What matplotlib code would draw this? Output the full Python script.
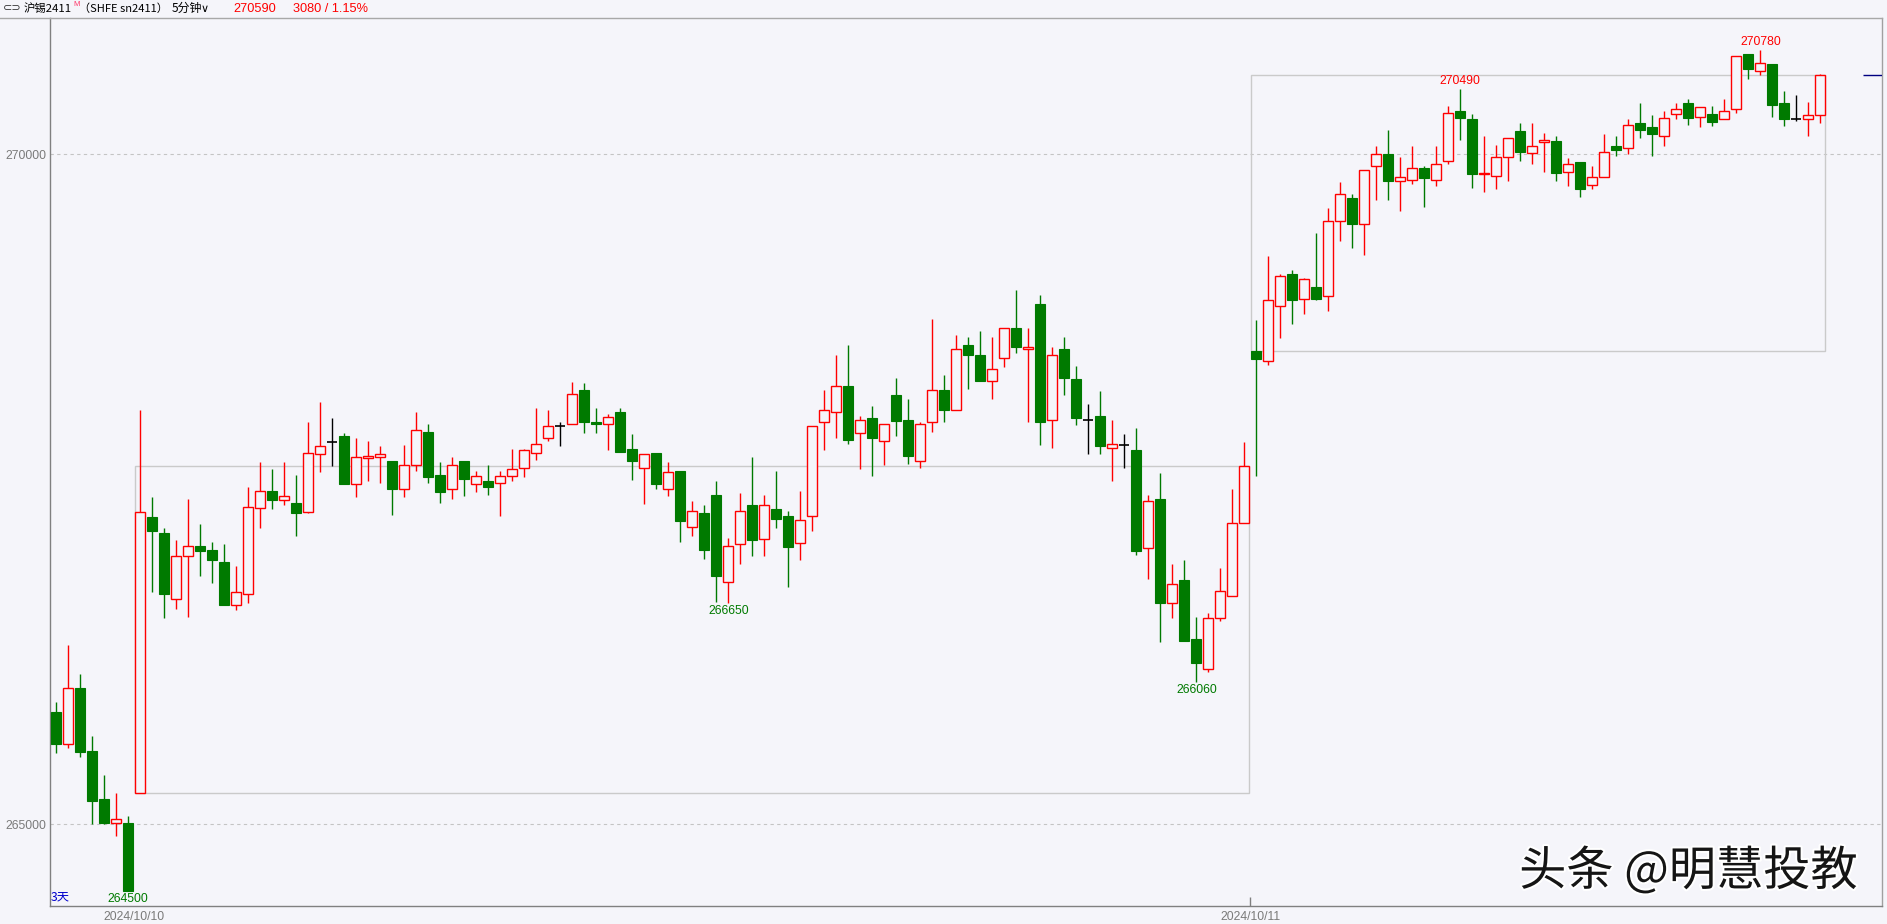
import matplotlib
matplotlib.use('Agg')
import matplotlib.pyplot as plt
from matplotlib.patches import Rectangle
import matplotlib.patheffects as pe
import matplotlib.transforms as mtrans

plt.rcParams['font.family'] = ['Liberation Sans', 'Noto Sans CJK SC', 'DejaVu Sans']

# ---------------- data (5-minute candles, SHFE sn2411) ----------------
opens = [265840, 265600, 266020, 265550, 265190, 265010, 265010, 265230, 267290, 267170,
         266680, 267000, 267080, 267050, 266960, 266640, 266720, 267360, 267490, 267420,
         267400, 267330, 267760, 267850, 267900, 267540, 267730, 267740, 267710, 267500,
         267680, 267930, 267610, 267500, 267710, 267540, 267560, 267550, 267600, 267660,
         267770, 267880, 267970, 267990, 268240, 268000, 267990, 268080, 267800, 267660,
         267770, 267500, 267640, 267220, 267320, 267460, 266810, 267090, 267380, 267130,
         267350, 267300, 267100, 267300, 268000, 268080, 268270, 267920, 268030, 267860,
         268200, 268020, 267710, 268000, 268240, 268090, 268580, 268500, 268310, 268480,
         268700, 268550, 268880, 268020, 268550, 268320, 268020, 268050, 267810, 267830,
         267790, 267060, 267430, 266650, 266820, 266380, 266160, 266540, 266700, 267250,
         268530, 268460, 268870, 269110, 268920, 269010, 268940, 269500, 269670, 269480,
         269910, 270000, 269800, 269810, 269900, 269810, 269950, 270320, 270260, 269850,
         269840, 269980, 270170, 270010, 270090, 270100, 269870, 269940, 269770, 269830,
         270060, 270050, 270230, 270200, 270140, 270300, 270380, 270280, 270300, 270260,
         270340, 270750, 270620, 270670, 270380, 270260, 270260, 270290]
highs = [265910, 266340, 266120, 265660, 265370, 265230, 265060, 268090, 267440, 267210,
         267120, 267430, 267240, 267110, 267090, 266930, 267520, 267700, 267650, 267700,
         267610, 268000, 268150, 268030, 267920, 267880, 267860, 267820, 267710, 267830,
         268080, 267990, 267700, 267740, 267710, 267640, 267680, 267640, 267800, 267800,
         268110, 268090, 268000, 268300, 268290, 268110, 268060, 268110, 267910, 267760,
         267770, 267700, 267640, 267410, 267380, 267560, 267140, 267470, 267740, 267460,
         267640, 267340, 267490, 267970, 268240, 268500, 268580, 268050, 268120, 267990,
         268330, 268170, 268000, 268770, 268350, 268650, 268640, 268680, 268640, 268700,
         268990, 268700, 268950, 268560, 268640, 268420, 268140, 268230, 268020, 267910,
         267960, 267460, 267620, 266940, 266970, 266550, 266580, 266910, 267500, 267850,
         268760, 269240, 269110, 269140, 269080, 269410, 269600, 269790, 269700, 269880,
         270060, 270180, 269980, 270060, 269910, 270060, 270360, 270490, 270300, 270140,
         270070, 270120, 270230, 270230, 270160, 270140, 269970, 269940, 269910, 270150,
         270140, 270260, 270380, 270290, 270320, 270380, 270410, 270350, 270360, 270410,
         270730, 270750, 270780, 270670, 270470, 270440, 270390, 270600]
lows = [265530, 265570, 265500, 265000, 265000, 264910, 264500, 265230, 266730, 266540,
        266610, 266550, 266850, 266800, 266640, 266600, 266650, 267210, 267350, 267380,
        267150, 267320, 267630, 267670, 267540, 267440, 267560, 267550, 267310, 267440,
        267640, 267550, 267400, 267430, 267450, 267480, 267460, 267300, 267560, 267590,
        267720, 267860, 267820, 267990, 267920, 267920, 267790, 267780, 267570, 267390,
        267500, 267450, 267110, 267150, 266980, 266660, 266650, 266940, 267000, 267000,
        267210, 266770, 266970, 267190, 267790, 267880, 267840, 267650, 267600, 267680,
        267900, 267690, 267660, 267930, 268000, 268090, 268250, 268310, 268170, 268410,
        268520, 268000, 267830, 267810, 268200, 267980, 267760, 267760, 267560, 267660,
        267010, 266830, 266360, 266540, 266370, 266060, 266140, 266520, 266700, 267250,
        267600, 268430, 268630, 268730, 268810, 268910, 268830, 269350, 269300, 269250,
        269660, 269660, 269580, 269780, 269610, 269760, 269930, 270110, 269750, 269720,
        269740, 269800, 269950, 269930, 269870, 269800, 269760, 269680, 269740, 269830,
        269990, 270000, 270120, 269990, 270060, 270260, 270220, 270200, 270210, 270260,
        270310, 270560, 270590, 270280, 270210, 270250, 270140, 270230]
closes = [265600, 266020, 265540, 265170, 265010, 265040, 264500, 267330, 267190, 266720,
          267000, 267080, 267040, 266970, 266640, 266730, 267370, 267490, 267420, 267450,
          267320, 267770, 267820, 267850, 267540, 267740, 267750, 267760, 267500, 267680,
          267940, 267590, 267480, 267680, 267580, 267600, 267520, 267600, 267650, 267790,
          267840, 267970, 267970, 268210, 268000, 267990, 268040, 267780, 267710, 267760,
          267540, 267630, 267260, 267340, 267050, 266850, 267080, 267340, 267120, 267380,
          267280, 267070, 267270, 267970, 268090, 268270, 267870, 268020, 267880, 267990,
          268010, 267750, 267990, 268240, 268090, 268550, 268500, 268310, 268400, 268700,
          268560, 268560, 268000, 268500, 268330, 268030, 268020, 267820, 267840, 267830,
          267040, 267410, 266650, 266790, 266370, 266200, 266540, 266740, 267250, 267670,
          268470, 268910, 269090, 268910, 269070, 268920, 269500, 269700, 269480, 269880,
          270000, 269800, 269830, 269900, 269820, 269930, 270310, 270270, 269850, 269860,
          269980, 270120, 270020, 270060, 270110, 269860, 269930, 269740, 269830, 270020,
          270030, 270220, 270180, 270150, 270270, 270340, 270270, 270350, 270240, 270320,
          270730, 270640, 270680, 270370, 270260, 270260, 270290, 270590]

# session boxes (first candle, last candle, open of first, close of last)
box_first = [7, 100]
box_last = [99, 147]
box_low = [265230, 268530]
box_high = [267670, 270590]

# extreme labels
low_label_idx = [6, 56, 95]
high_label_idx = [117, 142]

ytick_vals = [265000, 270000]
ytick_labels = ['265000', '270000']
date_pos = [6.5, 99.5]
date_labels = ['2024/10/10', '2024/10/11']

title_name = '沪锡2411'
title_code = '（SHFE sn2411）'
period = '5分钟'
last_price = '270590'
change_text = '3080 / 1.15%'
watermark = '头条 @明慧投教'

# ---------------- style ----------------
BG = '#F5F5FA'
RED = '#FF0000'
GREEN = '#007A00'
GRAY = '#808080'

W, H = 1887, 924
DPI = 100
fig = plt.figure(figsize=(W / DPI, H / DPI), dpi=DPI, facecolor=BG)
ax = fig.add_axes([50 / W, (H - 906) / H, (1882 - 50) / W, (906 - 18) / H])
ax.set_facecolor(BG)
ax.set_xlim(-0.525, 152.14)
ax.set_ylim(264390, 271017)

def px(x, y):
    return (x / W, 1 - y / H)

# grid lines
for v in ytick_vals:
    ax.axhline(v, color='#C4C4C4', lw=0.8, ls=(0, (3, 3)), zorder=1)

# session boxes
for a, b, lo, hi in zip(box_first, box_last, box_low, box_high):
    ax.add_patch(Rectangle((a - 0.43, lo), (b - a) + 0.86, hi - lo,
                           fill=False, edgecolor='#CACACA', lw=1.0, zorder=1.5))

bw = 0.86
for i, (o, h, l, c) in enumerate(zip(opens, highs, lows, closes)):
    if c > o:
        col = RED
        ax.vlines(i, l, h, color=col, lw=1.0, zorder=2)
        ax.add_patch(Rectangle((i - bw / 2, o), bw, c - o, facecolor=BG,
                               edgecolor=col, lw=1.0, zorder=3))
    elif c < o:
        col = GREEN
        ax.vlines(i, l, h, color=col, lw=1.0, zorder=2)
        ax.add_patch(Rectangle((i - bw / 2, c), bw, o - c, facecolor=col,
                               edgecolor=col, lw=0.8, zorder=3))
    else:
        ax.vlines(i, l, h, color='black', lw=1.0, zorder=2)
        ax.hlines(c, i - bw / 2, i + bw / 2, color='black', lw=1.2, zorder=3)

# extreme labels
for i in low_label_idx:
    ax.annotate(str(lows[i]), (i, lows[i]), xytext=(0, -1.5), textcoords='offset points',
                ha='center', va='top', color='#007A00', fontsize=8.8, zorder=5)
for i in high_label_idx:
    ax.annotate(str(highs[i]), (i, highs[i]), xytext=(0, 1.5), textcoords='offset points',
                ha='center', va='bottom', color=RED, fontsize=8.8, zorder=5)

# last price marker
ax.hlines(closes[-1], 150.56, 152.14, color='#000080', lw=1.0, zorder=4)

# axes styling
for s in ax.spines.values():
    s.set_color(GRAY)
    s.set_linewidth(1.0)
ax.spines['top'].set_color('#A8A8A8')
ax.spines['right'].set_color('#A0A0A0')
ax.set_yticks(ytick_vals)
ax.set_yticklabels(ytick_labels)
ax.tick_params(axis='y', length=0, pad=2.5, labelsize=8.8, labelcolor='#7A7A7A')
ax.set_xticks([date_pos[1]])
ax.set_xticklabels([''])
ax.tick_params(axis='x', direction='in', length=6.5, width=1, color=GRAY)

trans = mtrans.blended_transform_factory(ax.transData, fig.transFigure)
for p, lab in zip(date_pos, date_labels):
    ax.text(p, 1 - 917 / H, lab, transform=trans, ha='center', va='center',
            color='#7A7A7A', fontsize=8.8)

# '3天'
fig.text(*px(51, 897), '3天', ha='left', va='center', color='#0000CC', fontsize=8.8,
         family=['Noto Sans CJK SC', 'DejaVu Sans'])

# header
fig.add_artist(plt.Line2D([0, 50 / W], [1 - 18 / H, 1 - 18 / H], color='#A8A8A8', lw=1.0))
fig.text(*px(3, 8.5), '⊂⊃', ha='left', va='center', fontsize=8, color='#333333',
         family=['DejaVu Sans'])
fig.text(*px(24, 8.5), title_name, ha='left', va='center', fontsize=8.2, color='black',
         family=['Noto Sans CJK SC', 'DejaVu Sans'])
fig.text(*px(73, 5.0), 'M', ha='left', va='center', fontsize=5.6, color='#FF3366')
fig.text(*px(79, 8.5), title_code, ha='left', va='center', fontsize=8.0, color='black',
         family=['Noto Sans CJK SC', 'DejaVu Sans'])
fig.text(*px(172, 8.5), period, ha='left', va='center', fontsize=8.6, color='black',
         family=['Noto Sans CJK SC', 'DejaVu Sans'])
fig.text(*px(201, 8.5), '∨', ha='left', va='center', fontsize=8, color='black',
         family=['DejaVu Sans'])
fig.text(*px(233, 8.5), last_price, ha='left', va='center', fontsize=9.2, color=RED)
fig.text(*px(293, 8.5), change_text, ha='left', va='center', fontsize=9.2, color=RED)

# watermark
fig.text(*px(1858, 872), watermark, ha='right', va='center', fontsize=34, color='#151515',
         family=['Noto Sans CJK SC', 'DejaVu Sans'],
         path_effects=[pe.withStroke(linewidth=3, foreground='white')])

fig.savefig('out.png', dpi=DPI, facecolor=BG)
